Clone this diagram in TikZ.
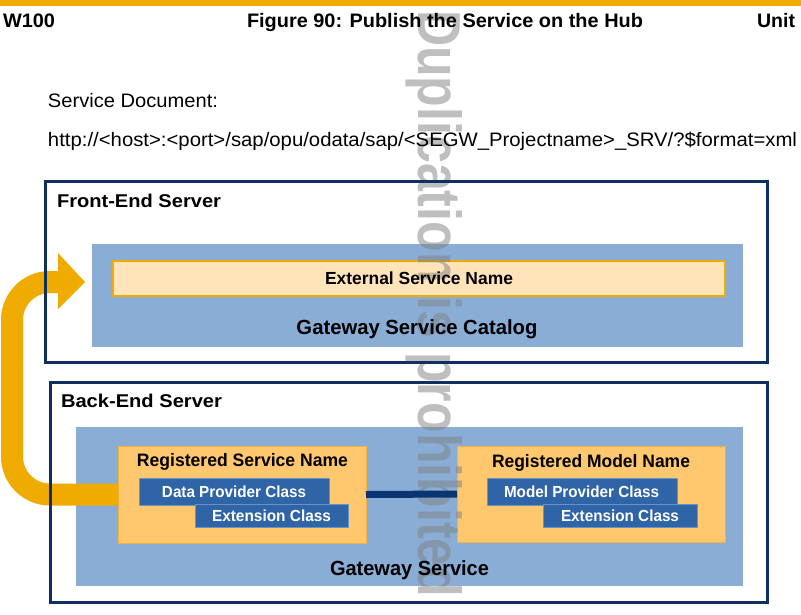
\documentclass[tikz,border=0pt]{standalone}
\usepackage{fontspec}
\setmainfont{Liberation Sans}
\usepackage{graphicx}
\definecolor{sapgold}{HTML}{F0AB00}
\definecolor{navy}{HTML}{0E2F5F}
\definecolor{paleblue}{HTML}{8AADD6}
\definecolor{lightpeach}{HTML}{FFE4BA}
\definecolor{peach}{HTML}{FFC86E}
\definecolor{peachline}{HTML}{F5B042}
\definecolor{classblue}{HTML}{2F64A6}
\definecolor{classline}{HTML}{6A92C6}
\definecolor{linkblue}{HTML}{0A3570}
\newsavebox\fitbox
\newcommand\fitx[2]{\sbox\fitbox{#2}\resizebox{#1}{\ht\fitbox}{\usebox\fitbox}}
\begin{document}
\begin{tikzpicture}[x=1pt,y=-1pt,
  every node/.style={inner sep=0pt, outer sep=0pt},
  frame/.style={draw=navy, line width=3pt},
  panel/.style={fill=paleblue},
  namebar/.style={fill=lightpeach, draw=sapgold, line width=1.2pt},
  regbox/.style={fill=peach, draw=peachline, line width=1pt},
  classbox/.style={fill=classblue, draw=classline, line width=0.8pt},
  hdr/.style={font=\fontsize{19.5}{19.5}\selectfont\bfseries, anchor=base west},
  plain/.style={font=\fontsize{19.5}{19.5}\selectfont, anchor=base west},
  srv/.style={font=\fontsize{18.5}{18.5}\selectfont\bfseries, anchor=base west},
  ttl/.style={font=\fontsize{20.5}{20.5}\selectfont\bfseries, anchor=base},
  reg/.style={font=\fontsize{18}{18}\selectfont\bfseries, anchor=base},
  cls/.style={font=\fontsize{16}{16}\selectfont\bfseries, text=white, anchor=base},
  bigarrow/.style={draw=sapgold, line width=22pt, rounded corners=38pt},
  wmark/.style={rotate=-90, anchor=base west, text=black!50, opacity=0.5, font=\bfseries},
]
\useasboundingbox (0,0) rectangle (801,614);
\fill[white] (0,0) rectangle (801,614);

% top bar
\node[fill=sapgold, minimum width=801pt, minimum height=6pt, anchor=north west] (topbar) at (0,0) {};

% panels
\node[panel, minimum width=651pt, minimum height=103pt] (catalog) at (417.5,295.5) {};
\node[namebar, minimum width=612pt, minimum height=35pt] (extname) at (419,278.5) {};
\node[panel, minimum width=667pt, minimum height=159pt] (gwsvc) at (409.5,506.5) {};

\node[regbox, minimum width=248pt, minimum height=97pt] (rsn) at (242,494.5) {};
\node[regbox, minimum width=268pt, minimum height=96pt] (rmn) at (591,494) {};

\node[classbox, minimum width=190pt, minimum height=27pt] (dpc) at (234,491.5) {};
\node[classbox, minimum width=153pt, minimum height=23pt] (ext1) at (271.5,515.5) {};
\node[classbox, minimum width=190pt, minimum height=27pt] (mpc) at (582,491.5) {};
\node[classbox, minimum width=154pt, minimum height=23pt] (ext2) at (620,515.5) {};

% watermark (behind texts and lines)
\node[wmark] (wm) at (418,10) {\resizebox{587pt}{44pt}{Duplication is prohibited}};

% link between registered service and model
\draw[linkblue, line width=7pt] (rsn.east) -- (rmn.west);

% big orange arrow
\coordinate (a1) at (12,494.5);
\coordinate (a2) at (12,282);
\coordinate (a3) at (60,282);
\coordinate (tip) at (85,282);
\coordinate (hb1) at (58,253);
\coordinate (hb2) at (58,309);
\draw[bigarrow] (rsn.west) -- (a1) -- (a2) -- (a3);
\fill[sapgold] (hb1) -- (tip) -- (hb2) -- cycle;

% server frames
\node[frame, minimum width=722pt, minimum height=181pt] (fe) at (406,271.5) {};
\node[frame, minimum width=717pt, minimum height=220pt] (be) at (408.5,492) {};

% header texts
\node[hdr] (hleft) at (3,27) {\fitx{52pt}{W100}};
\node[hdr] (htitle) at (247,27) {\fitx{396pt}{Figure 90: Publish the Service on the Hub}};
\node[hdr] (hright) at (757,27) {\fitx{38pt}{Unit}};

% service document
\node[plain] (sdoc) at (48,107) {\fitx{170pt}{Service Document:}};
\node[plain] (url) at (48,146) {\fitx{749pt}{http://<host>:<port>/sap/opu/odata/sap/<SEGW\_Projectname>\_SRV/?\$format=xml}};

% labels
\node[srv] (felbl) at (57,207) {\fitx{164pt}{Front-End Server}};
\node[srv] (belbl) at (61,407) {\fitx{161pt}{Back-End Server}};
\node[font=\fontsize{17.5}{17.5}\selectfont\bfseries, anchor=base] (extlbl) at (419,284) {\fitx{188pt}{External Service Name}};
\node[ttl] (catlbl) at (417,334) {\fitx{241pt}{Gateway Service Catalog}};
\node[reg] (rsnlbl) at (242.5,466.5) {\fitx{211pt}{Registered Service Name}};
\node[reg] (rmnlbl) at (591,467.5) {\fitx{198pt}{Registered Model Name}};
\node[cls] (dpclbl) at (234,497) {\fitx{144pt}{Data Provider Class}};
\node[cls] (ext1lbl) at (271.5,521.5) {\fitx{119pt}{Extension Class}};
\node[cls] (mpclbl) at (581.5,497.5) {\fitx{155pt}{Model Provider Class}};
\node[cls] (ext2lbl) at (620,521.5) {\fitx{118pt}{Extension Class}};
\node[ttl] (gwlbl) at (409.5,575) {\fitx{159pt}{Gateway Service}};
\end{tikzpicture}
\end{document}
